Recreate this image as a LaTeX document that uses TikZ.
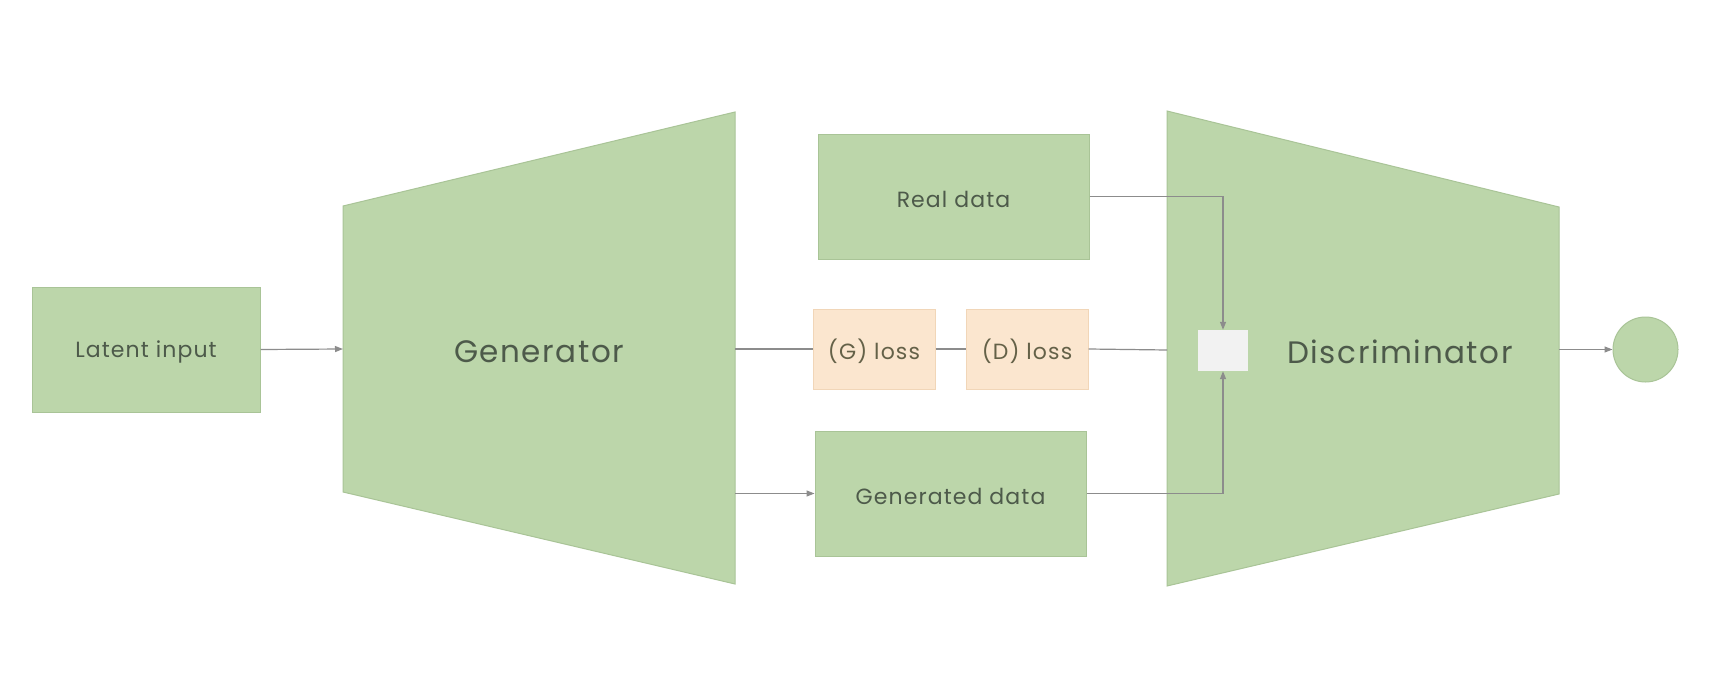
\documentclass[tikz,border=0pt]{standalone}
\usepackage{fontspec}
\setmainfont{Poppins}[LetterSpace=5]
\usetikzlibrary{arrows.meta}
\definecolor{gfill}{HTML}{BCD6AA}
\definecolor{gdraw}{HTML}{A9C497}
\definecolor{pfill}{HTML}{FBE6CF}
\definecolor{pdraw}{HTML}{F1D6B8}
\definecolor{lcol}{HTML}{8C8C8C}
\definecolor{tcol}{HTML}{4D5A4A}
\definecolor{boxgray}{HTML}{F2F2F2}
\tikzset{
  gbox/.style={draw=gdraw, line width=1pt, fill=gfill, inner sep=0pt, text=tcol, font=\fontsize{22}{26}\selectfont},
  pbox/.style={draw=pdraw, line width=1pt, fill=pfill, inner sep=0pt, text=tcol!80!brown, minimum width=122pt, minimum height=80pt, font=\fontsize{22}{26}\selectfont},
  trap/.style={draw=gdraw, line width=1pt, fill=gfill},
  conn/.style={draw=lcol, line width=1.2pt},
  arr/.style={conn, -{Triangle[length=8pt,width=6pt]}},
  bigtext/.style={text=tcol, font=\fontsize{31}{36}\selectfont, inner sep=0pt},
  lbl/.style={text=tcol, font=\fontsize{22}{26}\selectfont, inner sep=0pt}
}
\begin{document}
\begin{tikzpicture}[x=1pt,y=-1pt]
\fill[white] (0,0) rectangle (1724,680);
\useasboundingbox (0,0) rectangle (1724,680);
% Generator trapezoid
\coordinate (g1) at (343,206);
\coordinate (g2) at (735,112);
\coordinate (g3) at (735,584);
\coordinate (g4) at (343,492);
\path[trap] (g1) -- (g2) -- (g3) -- (g4) -- cycle;
\coordinate (genin) at (343,349);
\coordinate (genout1) at (735,349);
\coordinate (genout2) at (735,493.5);
\node[bigtext] (gen) at (539,352) {Generator};
% Discriminator trapezoid
\coordinate (d1) at (1167,111);
\coordinate (d2) at (1559,207);
\coordinate (d3) at (1559,494);
\coordinate (d4) at (1167,586);
\path[trap] (d1) -- (d2) -- (d3) -- (d4) -- cycle;
\coordinate (discin) at (1167,350);
\coordinate (discout) at (1559,349.5);
\node[bigtext] (disc) at (1400,352) {Discriminator};
% boxes
\node[gbox, minimum width=228pt, minimum height=125pt] (latent) at (146,349.5) {};
\node[lbl] (latentt) at (146,352) {Latent input};
\node[gbox, minimum width=271pt, minimum height=125pt] (real) at (953.5,196.5) {};
\node[lbl] (realt) at (953.5,199) {Real data};
\node[gbox, minimum width=271pt, minimum height=125pt] (generated) at (950.5,493.5) {};
\node[lbl] (generatedt) at (950.5,496) {Generated data};
\node[pbox] (gloss) at (874,349) {};
\node[lbl, text=tcol!80!brown] (glosst) at (874,351.5) {(G) loss};
\node[pbox] (dloss) at (1027,349) {};
\node[lbl, text=tcol!80!brown] (dlosst) at (1027,351.5) {(D) loss};
\node[draw=none, fill=boxgray, minimum width=50pt, minimum height=41pt, inner sep=0pt] (mix) at (1223,350.5) {};
\node[circle, draw=gdraw, line width=1pt, fill=gfill, minimum size=65pt, inner sep=0pt] (out) at (1645.5,349.5) {};
% connectors
\draw[arr] (latent.east) -- (genin);
\draw[conn] (genout1) -- (gloss.west);
\draw[conn] (gloss.east) -- (dloss.west);
\draw[conn] (dloss.east) -- (discin);
\draw[arr] (genout2) -- (generated.west);
\draw[arr] (real.east) -| (mix.north);
\draw[arr] (generated.east) -| (mix.south);
\draw[arr] (discout) -- (out.west);
\end{tikzpicture}
\end{document}
